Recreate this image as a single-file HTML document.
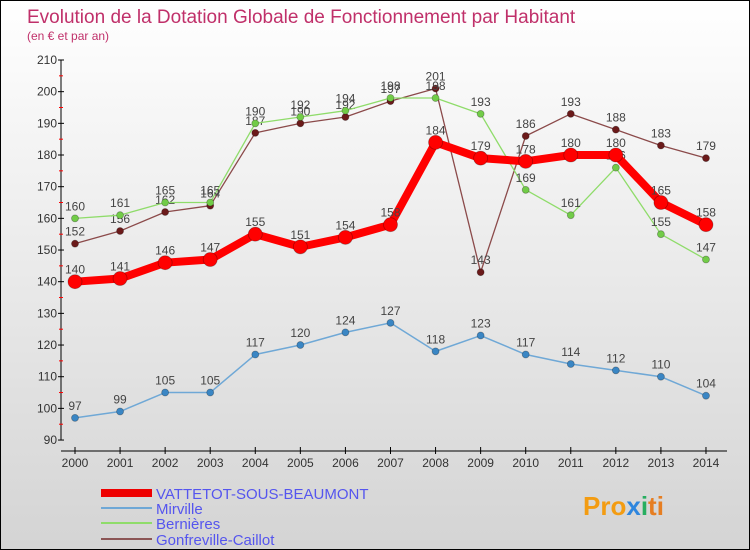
<!DOCTYPE html>
<html><head><meta charset="utf-8"><style>
html,body{margin:0;padding:0}
body{width:750px;height:550px;overflow:hidden;font-family:"Liberation Sans",sans-serif}
#wrap{position:relative;width:748px;height:548px;border:1px solid #000;background:linear-gradient(#ffffff,#d4d4d4)}
</style></head><body>
<div id="wrap">
<svg id="chart" width="748" height="548" style="position:absolute;left:0;top:0">
<text x="26" y="22" font-size="19" fill="#c0306a">Evolution de la Dotation Globale de Fonctionnement par Habitant</text>
<text x="26" y="39" font-size="12" fill="#c0306a">(en € et par an)</text>
<g id="axes"></g><g id="series"></g>
<g id="legend"></g>
<text x="582" y="514" font-size="26" font-weight="bold" fill="#f39c12">Pro<tspan fill="#2e86de">x</tspan><tspan fill="#27ae60">i</tspan><tspan fill="#e67e22">ti</tspan></text>
</svg>
</div>
<script>
const years=[2000,2001,2002,2003,2004,2005,2006,2007,2008,2009,2010,2011,2012,2013,2014];
const yTicks=[90,100,110,120,130,140,150,160,170,180,190,200,210];
const vattetot=[140,141,146,147,155,151,154,158,184,179,178,180,180,165,158];
const mirville=[97,99,105,105,117,120,124,127,118,123,117,114,112,110,104];
const bernieres=[160,161,165,165,190,192,194,198,198,193,169,161,176,155,147];
const gonfreville=[152,156,162,164,187,190,192,197,201,143,186,193,188,183,179];
const seriesNames=["VATTETOT-SOUS-BEAUMONT","Mirville","Bernières","Gonfreville-Caillot"];
const NS="http://www.w3.org/2000/svg";
const X=i=>74+i*45.07;
const Y=v=>59+(210-v)*3.167;
function mk(tag,attrs,parent){const e=document.createElementNS(NS,tag);for(const k in attrs)e.setAttribute(k,attrs[k]);parent.appendChild(e);return e;}
const axes=document.getElementById('axes');
let a=mk('line',{x1:60,y1:Y(210),x2:60,y2:Y(90),stroke:'#000'},axes);


yTicks.forEach(t=>{
  mk('line',{x1:57,x2:63,y1:Y(t),y2:Y(t),stroke:'#000'},axes);
  if(t<210) mk('line',{x1:58,x2:62,y1:Y(t+5),y2:Y(t+5),stroke:'#f00'},axes);
  const tx=mk('text',{x:56,y:Y(t)+4,'font-size':12,'text-anchor':'end',fill:'#333'},axes);
  tx.textContent=t;
  
  
});
a=mk('line',{x1:60,y1:450,x2:726,y2:450,stroke:'#000'},axes);


years.forEach((yr,i)=>{
  mk('line',{x1:X(i),x2:X(i),y1:446,y2:453,stroke:'#000'},axes);
  const tx=mk('text',{x:X(i),y:466,'font-size':12,'text-anchor':'middle',fill:'#333'},axes);
  tx.textContent=yr;
  
  
});
const sg=document.getElementById('series');
const defs=[
 {d:gonfreville,line:'#8b4a4a',mk:'#6b1a1a',w:1.3,r:3.5,name:'series-gonfreville'},
 {d:bernieres,line:'#8fdc6a',mk:'#72cc48',w:1.3,r:3.5,name:'series-bernieres'},
 {d:mirville,line:'#6fa8d6',mk:'#3a86c4',w:1.5,r:3.5,name:'series-mirville'},
 {d:vattetot,line:'#ff0000',mk:'#ff0000',w:8,r:7,name:'series-vattetot'}
];
defs.forEach(s=>{
  const g=mk('g',{},sg);
  
  
  const pl=mk('polyline',{points:s.d.map((v,i)=>X(i)+','+Y(v)).join(' '),fill:'none',stroke:s.line,'stroke-width':s.w,'stroke-linejoin':'round'},g);
  
  
  s.d.forEach((v,i)=>{
    const c=mk('circle',{cx:X(i),cy:Y(v),r:s.r,fill:s.mk,stroke:'rgba(0,0,0,0.3)','stroke-width':0.8},g);
    
    
    const t=mk('text',{x:X(i),y:Y(v)-8,'font-size':12,'text-anchor':'middle',fill:'#444'},g);
    t.textContent=v;
    
    
  });
});
const lg=document.getElementById('legend');
const lcol=['#ee0000','#6fa8d6','#8fdc6a','#8b5555'];const lw=[8,2,2,2];const ly=[492,507,522,538];
seriesNames.forEach((n,i)=>{
  const g=mk('g',{},lg);
  
  
  mk('line',{x1:100,x2:151,y1:ly[i],y2:ly[i],stroke:lcol[i],'stroke-width':lw[i]},g);
  const t=mk('text',{x:155,y:ly[i]+6,'font-size':15,fill:'#5555ee'},g);
  t.textContent=n;
});
</script>
</body></html>
